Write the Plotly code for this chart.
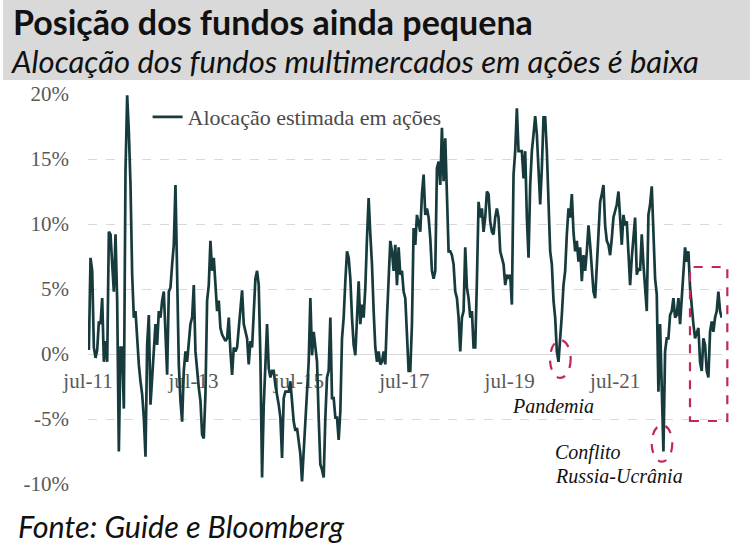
import pandas as pd
import plotly.graph_objects as go

# ---- data (allocation estimate, % of equity) ----
seg_2011_2013 = [0.3, 7.4, 6.4, 0.5, -0.3, 0.3, 2.5, 2.3, 4.3, -0.6,
                 1.0, -0.6, 9.4, 9.2, 6.9, 4.8, 9.2, 4.1, -7.5, 0.5,
                 0.5, -4.2, 14.1, 19.9, 17.1, 13.0, 6.1, 2.8, 3.3, 0.7,
                 -0.8, -2.1, -3.1, -4.9, -7.9, 0.7, 3.0, -3.9, -1.6, -0.3,
                 2.3, 0.7, 3.3, 2.8, 4.1, 4.8, 1.2, -1.6, 4.8, 5.1,
                 6.9, 8.4, 13.0, 6.9, -0.8, -3.6, -5.2, -1.3, 0.2, -0.6,
                 0.7]
seg_2013_2015 = [2.3, 2.8, 5.3, 0.2, -1.6, -2.6, -3.6, -6.2, -6.5, -3.1,
                 4.1, 5.3, 8.7, 6.4, 7.4, 5.3, 3.3, 4.1, 2.0, 1.5,
                 1.2, 1.0, 1.2, 2.8, 0.2, -1.6, 0.5, 0.2, 0.5, 2.0,
                 3.0, 4.9, 2.3, 1.7, 1.2, -0.8, 1.0, 0.5, 3.0, 5.8,
                 6.4, 5.3, -0.3, -9.5, -4.0, -1.3, 2.3, -1.1, -1.8, -1.3,
                 -1.3, -2.4, -3.1, -3.9, -4.9, -8.0, -3.4, -2.9, -2.9, -2.9,
                 -2.1, -3.6, -5.2, -5.9, -5.7, -6.7]
seg_2015_2017 = [-7.7, -9.8, -7.5, -4.4, -2.4, -0.6, 4.3, -0.1, 1.7, 0.7,
                 -0.6, -4.9, -8.5, -8.9, -9.5, -4.9, -1.8, -1.3, 2.8, -3.4,
                 -3.4, -4.9, -4.9, -6.6, -4.4, 1.2, 2.8, 5.6, 7.9, 7.4,
                 5.8, 2.8, 0.7, -0.1, 2.8, 5.6, 2.3, 3.8, 2.8, 5.1,
                 8.9, 12.0, 9.2, 6.9, 3.3, 0.5, -0.6, 0.2, -0.8, -0.6,
                 0.2, -0.8, 2.8, 5.3, 8.7, 7.9, 6.4, 8.4, 5.3, 8.2,
                 6.1, 6.4, 4.8, 4.3, 1.7, -1.3]
seg_2017_2019 = [-1.3, 2.3, 9.7, 8.4, 10.7, 9.9, 9.4, 12.3, 13.8, 10.7,
                 11.2, 10.5, 8.9, 6.4, 5.8, 6.4, 14.3, 14.8, 13.0, 17.4,
                 13.3, 16.6, 13.0, 7.9, 7.9, 7.6, 6.9, 4.8, 4.3, 2.8,
                 0.2, 2.8, 3.3, 8.2, 5.1, 4.3, 2.8, 3.3, 0.5, 0.5,
                 5.6, 11.7, 10.5, 11.2, 9.4, 10.5, 12.5, 12.3, 10.2, 9.4,
                 9.2, 10.5, 11.2, 10.5, 7.9, 7.4, 6.9, 5.3, 6.1, 5.8,
                 6.1, 3.8, 13.8, 15.6, 18.9, 15.6]
seg_2019_2021 = [15.6, 15.6, 13.5, 15.6, 10.5, 7.4, 13.0, 15.6, 16.9, 18.3,
                 16.9, 14.3, 11.5, 14.3, 18.2, 18.2, 15.6, 11.7, 7.9, 6.9,
                 4.1, 2.8, 0.2, -0.6, 1.0, 3.0, 5.3, 6.4, 9.2, 11.2,
                 10.5, 12.3, 9.4, 7.9, 8.7, 7.1, 8.2, 5.6, 7.6, 6.4,
                 7.9, 9.9, 8.4, 6.4, 4.8, 4.3, 6.9, 9.4, 11.7, 12.3,
                 13.0, 9.9, 8.7, 8.4, 7.6, 8.9, 10.5, 11.0, 11.5, 12.5,
                 10.5, 8.4, 10.7, 9.9, 10.2, 7.9]
seg_2021_2023 = [5.3, 7.4, 9.2, 10.5, 6.1, 6.6, 6.4, 9.2, 6.9, 5.3,
                 3.3, 10.7, 11.5, 12.9, 9.9, 5.8, 4.6, -2.9, 2.3, -2.4,
                 -7.5, 0.2, 1.2, 1.2, 3.0, 3.3, 4.3, 2.8, 3.0, 4.3,
                 2.3, 4.3, 6.4, 8.2, 7.1, 7.9, 5.1, 3.3, 2.3, 1.2,
                 1.7, 2.0, -0.6, -1.3, 1.2, 0.7, -1.3, -1.8, 1.7, 2.5,
                 1.7, 2.8, 3.3, 4.8, 3.3, 2.8]

values = (seg_2011_2013 + seg_2013_2015 + seg_2015_2017 +
          seg_2017_2019 + seg_2019_2021 + seg_2021_2023)
start_date = "2011-07-07"
end_date = "2023-07-09"
dates = pd.date_range(start_date, end_date, periods=len(values))

series_name = "Alocação estimada em ações"
x_tick_dates = ["2011-07-01", "2013-07-01", "2015-07-01",
                "2017-07-01", "2019-07-01", "2021-07-01"]
x_tick_labels = ["jul-11", "jul-13", "jul-15", "jul-17", "jul-19", "jul-21"]
y_tick_vals = [-10, -5, 0, 5, 10, 15, 20]
y_tick_labels = ["-10%", "-5%", "0%", "5%", "10%", "15%", "20%"]

title = "Posição dos fundos ainda pequena"
subtitle = "Alocação dos fundos multimercados em ações é baixa"
source = "Fonte: Guide e Bloomberg"

# ---- styles ----
LINE = "#173B3C"
RED = "#C2275C"
GRID = "#D9D9D9"
TICK = "#595959"
SERIF = "Liberation Serif, Times New Roman, serif"
SANS = "Lato, Open Sans, sans-serif"

fig = go.Figure()
fig.add_trace(go.Scatter(
    x=dates, y=values, mode="lines", name=series_name,
    line=dict(color=LINE, width=2.7), showlegend=True,
))

fig.update_layout(
    width=755, height=552,
    margin=dict(l=88, r=33, t=94, b=68),
    paper_bgcolor="white", plot_bgcolor="white",
    showlegend=True,
    legend=dict(x=0.094, y=0.941, xanchor="left", yanchor="middle",
                font=dict(family=SERIF, size=22, color="#4A4A4A"),
                bgcolor="rgba(0,0,0,0)", borderwidth=0),
    xaxis=dict(
        type="date", range=["2011-07-01", "2023-07-11"],
        anchor="free", position=1/3,
        tickvals=x_tick_dates, ticktext=x_tick_labels,
        showgrid=False, showline=False, zeroline=False,
        ticks="", ticklabelstandoff=12,
        tickfont=dict(family=SERIF, size=21, color=TICK),
        layer="below traces",
    ),
    yaxis=dict(
        range=[-10, 20], tickvals=y_tick_vals, ticktext=y_tick_labels,
        showgrid=True, gridcolor=GRID, griddash="dash", gridwidth=1,
        zeroline=True, zerolinecolor=GRID, zerolinewidth=1,
        showline=False, ticks="", ticklabelstandoff=18,
        tickfont=dict(family=SERIF, size=21, color=TICK),
        layer="below traces",
    ),
)

# header band
fig.add_shape(type="rect", xref="paper", yref="paper",
              x0=-0.134, x1=1.044, y0=1.036, y1=1.241,
              fillcolor="#D9D9D9", line=dict(width=0), layer="below")

fig.add_annotation(text=f"<b>{title}</b>", xref="paper", yref="paper",
                   x=-0.121, y=1.187, xanchor="left", yanchor="middle",
                   showarrow=False, font=dict(family=SANS, size=34, color="#111111"))
fig.add_annotation(text=f"<i>{subtitle}</i>", xref="paper", yref="paper",
                   x=-0.125, y=1.085, xanchor="left", yanchor="middle",
                   showarrow=False, font=dict(family=SANS, size=31, color="#111111"))
fig.add_annotation(text=f"<i>{source}</i>", xref="paper", yref="paper",
                   x=-0.114, y=-0.108, xanchor="left", yanchor="middle",
                   showarrow=False, font=dict(family=SANS, size=30.5, color="#111111"))

# event highlights
fig.add_shape(type="circle", xref="paper", yref="paper",
              x0=0.7287, x1=0.7613, y0=0.272, y1=0.369,
              line=dict(color=RED, width=2.2, dash="dash"))
fig.add_shape(type="circle", xref="paper", yref="paper",
              x0=0.8891, x1=0.9216, y0=0.0572, y1=0.1513,
              line=dict(color=RED, width=2.2, dash="dash"))
fig.add_shape(type="rect", xref="paper", yref="paper",
              x0=0.9495, x1=1.0084, y0=0.1615, y1=0.5564,
              line=dict(color=RED, width=2.2, dash="dash"))

fig.add_annotation(text="<i>Pandemia</i>", xref="paper", yref="paper",
                   x=0.7334, y=0.2008, xanchor="center", yanchor="middle",
                   showarrow=False, font=dict(family=SERIF, size=20, color="#111111"))
fig.add_annotation(text="<i>Conflito</i>", xref="paper", yref="paper",
                   x=0.7334, y=0.0795, xanchor="left", yanchor="middle",
                   showarrow=False, font=dict(family=SERIF, size=20, color="#111111"))
fig.add_annotation(text="<i>Russia-Ucrânia</i>", xref="paper", yref="paper",
                   x=0.7334, y=0.0205, xanchor="left", yanchor="middle",
                   showarrow=False, font=dict(family=SERIF, size=20, color="#111111"))

fig.write_html("out.html", config={"displayModeBar": False},
               post_script="document.body.style.margin='0';")
